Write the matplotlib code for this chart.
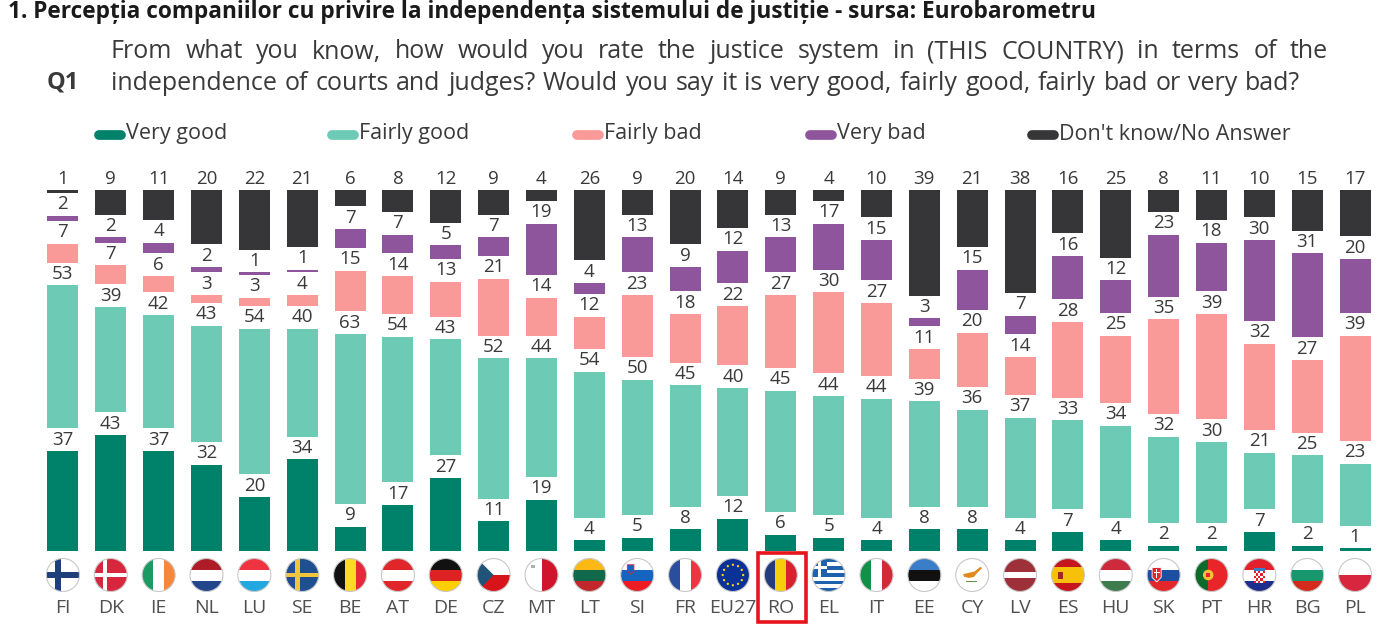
import matplotlib
matplotlib.use('Agg')
import matplotlib.pyplot as plt
from matplotlib.patches import Rectangle, Circle, Polygon
from matplotlib.lines import Line2D
import numpy as np

countries = ['FI', 'DK', 'IE', 'NL', 'LU', 'SE', 'BE', 'AT', 'DE', 'CZ', 'MT', 'LT', 'SI', 'FR',
             'EU27', 'RO', 'EL', 'IT', 'EE', 'CY', 'LV', 'ES', 'HU', 'SK', 'PT', 'HR', 'BG', 'PL']
very_good = [37, 43, 37, 32, 20, 34, 9, 17, 27, 11, 19, 4, 5, 8, 12, 6, 5, 4, 8, 8, 4, 7, 4, 2, 2, 7, 2, 1]
fairly_good = [53, 39, 42, 43, 54, 40, 63, 54, 43, 52, 44, 54, 50, 45, 40, 45, 44, 44, 39, 36, 37, 33, 34, 32, 30, 21, 25, 23]
fairly_bad = [7, 7, 6, 3, 3, 4, 15, 14, 13, 21, 14, 12, 23, 18, 22, 27, 30, 27, 11, 20, 14, 28, 25, 35, 39, 32, 27, 39]
very_bad = [2, 2, 4, 2, 1, 1, 7, 7, 5, 7, 19, 4, 13, 9, 12, 13, 17, 15, 3, 15, 7, 16, 12, 23, 18, 30, 31, 20]
dont_know = [1, 9, 11, 20, 22, 21, 6, 8, 12, 9, 4, 26, 9, 20, 14, 9, 4, 10, 39, 21, 38, 16, 25, 8, 11, 10, 15, 17]

series_names = ['Very good', 'Fairly good', 'Fairly bad', 'Very bad', "Don't know/No Answer"]
colors = ['#00816A', '#6DCAB5', '#F99A98', '#8E559C', '#363638']
highlight = 'RO'

title = '1. Percepția companiilor cu privire la independența sistemului de justiție - sursa: Eurobarometru'
question = ['From what you know, how would you rate the justice system in (THIS COUNTRY) in terms of the',
            'independence of courts and judges? Would you say it is very good, fairly good, fairly bad or very bad?']

NARROW = ['Liberation Sans Narrow', 'Open Sans', 'DejaVu Sans']
W, H = 1400, 635
fig = plt.figure(figsize=(W / 100, H / 100), dpi=100)


def fx(px):
    return px / W


def fy(py):
    return 1 - py / H


# ---- bars ----
gap = 8.4
ax = fig.add_axes([fx(39), fy(551), fx(1340), 378 / H])
ax.set_xlim(-0.5, 27.5)
ax.set_ylim(0, 140)
ax.axis('off')

x = np.arange(len(countries))
series = [very_good, fairly_good, fairly_bad, very_bad, dont_know]
base = np.zeros(len(countries))
for k, (vals, col) in enumerate(zip(series, colors)):
    vals = np.array(vals, dtype=float)
    ax.bar(x, vals, 0.65, bottom=base, color=col, edgecolor='none')
    for xi, b, v in zip(x, base, vals):
        ax.text(xi, b + v + gap / 2, f'{int(v)}', ha='center', va='center',
                fontsize=13.5, color='#3a3a3a', family=NARROW)
    base = base + vals + gap

# ---- flags ----
ppu = 1340 / 28.0
fax = fig.add_axes([fx(39), fy(595), fx(1340), 40 / H])
fax.set_xlim(-0.5, 27.5)
fax.set_ylim(-20 / ppu, 20 / ppu)
fax.axis('off')

RED = '#D7263D'
WHITE = '#FFFFFF'


def draw_flag(a, code, cx, cy, r):
    clip = Circle((cx, cy), r, transform=a.transData)
    parts = []

    def rect(x0, y0, x1, y1, c):
        parts.append(Rectangle((cx + x0 * r, cy + y0 * r), (x1 - x0) * r, (y1 - y0) * r,
                               facecolor=c, edgecolor='none'))

    def hst(cols, ratios=None):
        ratios = ratios or [1] * len(cols)
        tot = float(sum(ratios))
        yy = 1.0
        for c, f in zip(cols, ratios):
            h = 2 * f / tot
            rect(-1, yy - h, 1, yy, c)
            yy -= h

    def vst(cols, ratios=None):
        ratios = ratios or [1] * len(cols)
        tot = float(sum(ratios))
        xx = -1.0
        for c, f in zip(cols, ratios):
            w = 2 * f / tot
            rect(xx, -1, xx + w, 1, c)
            xx += w

    def poly(pts, c, ec='none'):
        parts.append(Polygon([(cx + p * r, cy + q * r) for p, q in pts], closed=True,
                             facecolor=c, edgecolor=ec, linewidth=0.6))

    def dot(px, py, rad, c):
        parts.append(Circle((cx + px * r, cy + py * r), rad * r, facecolor=c, edgecolor='none'))

    if code == 'FI':
        rect(-1, -1, 1, 1, WHITE)
        rect(-0.48, -1, -0.12, 1, '#1E3F7A')
        rect(-1, -0.17, 1, 0.17, '#1E3F7A')
    elif code == 'DK':
        rect(-1, -1, 1, 1, RED)
        rect(-0.45, -1, -0.22, 1, WHITE)
        rect(-1, -0.12, 1, 0.12, WHITE)
    elif code == 'SE':
        rect(-1, -1, 1, 1, '#1D4F91')
        rect(-0.45, -1, -0.15, 1, '#F2C53D')
        rect(-1, -0.15, 1, 0.15, '#F2C53D')
    elif code == 'IE':
        vst(['#1B9A62', WHITE, '#F6883E'])
    elif code == 'NL':
        hst(['#AE1C28', WHITE, '#21468B'])
    elif code == 'LU':
        hst(['#EF3340', WHITE, '#21A8E0'])
    elif code == 'BE':
        vst(['#111111', '#FDDA24', '#E5293A'])
    elif code == 'AT':
        hst(['#E0262A', WHITE, '#E0262A'])
    elif code == 'DE':
        hst(['#111111', '#DD2222', '#FFCE00'])
    elif code == 'CZ':
        hst([WHITE, '#D7141A'])
        poly([(-1, 1), (0.0, 0), (-1, -1)], '#1F5478')
    elif code == 'MT':
        vst([WHITE, '#CF142B'])
        rect(-0.62, 0.42, -0.42, 0.62, '#B0B0B0')
    elif code == 'LT':
        hst(['#FDB913', '#10694A', '#C1272D'])
    elif code == 'SI':
        hst([WHITE, '#1565C0', '#ED1C24'])
        poly([(-0.6, 0.62), (-0.2, 0.62), (-0.2, 0.25), (-0.4, 0.05), (-0.6, 0.25)], '#1565C0', '#ED1C24')
    elif code == 'FR':
        vst(['#2B4D9E', WHITE, '#EF3340'])
    elif code == 'EU27':
        rect(-1, -1, 1, 1, '#0A3196')
        for ang in np.linspace(0, 2 * np.pi, 12, endpoint=False):
            dot(0.62 * np.cos(ang), 0.62 * np.sin(ang), 0.07, '#FFD700')
    elif code == 'RO':
        vst(['#233C7E', '#F7CE0C', '#D62230'])
    elif code == 'EL':
        hst(['#1E61AD', WHITE] * 4 + ['#1E61AD'])
        rect(-1, -0.111, -0.1, 1, '#1E61AD')
        rect(-0.64, -0.111, -0.46, 1, WHITE)
        rect(-1, 0.35, -0.1, 0.55, WHITE)
    elif code == 'IT':
        vst(['#0E9247', WHITE, '#D42A36'])
    elif code == 'EE':
        hst(['#3A7DC9', '#111111', WHITE])
    elif code == 'CY':
        rect(-1, -1, 1, 1, WHITE)
        poly([(-0.55, 0.05), (-0.25, 0.12), (0.15, 0.22), (0.5, 0.5), (0.6, 0.42),
              (0.3, 0.12), (0.1, -0.12), (-0.2, -0.18), (-0.5, -0.1)], '#E08A1E')
        rect(-0.35, -0.42, 0.3, -0.36, '#6A8A4A')
    elif code == 'LV':
        hst(['#9E3039', WHITE, '#9E3039'], [2, 1, 2])
    elif code == 'ES':
        hst(['#C4161C', '#F7C10A', '#C4161C'], [1, 2, 1])
        rect(-0.6, -0.25, -0.3, 0.2, '#A8261E')
    elif code == 'HU':
        hst(['#CD2A3E', WHITE, '#3E7B4E'])
    elif code == 'SK':
        hst([WHITE, '#1C4FA2', '#E3262B'])
        poly([(-0.7, 0.45), (-0.15, 0.45), (-0.15, -0.15), (-0.42, -0.42), (-0.7, -0.15)], '#E3262B', WHITE)
        rect(-0.47, -0.2, -0.38, 0.35, WHITE)
        rect(-0.6, 0.12, -0.25, 0.2, WHITE)
    elif code == 'PT':
        vst(['#0A6B2A', '#E8262A'], [2, 3])
        dot(-0.2, 0, 0.32, '#F2C230')
        rect(-0.33, -0.15, -0.07, 0.15, '#E8262A')
    elif code == 'HR':
        hst(['#E4202C', WHITE, '#1E2E8C'])
        for i in range(5):
            for j in range(5):
                c = '#E4202C' if (i + j) % 2 == 0 else WHITE
                rect(-0.32 + j * 0.128, 0.25 - (i + 1) * 0.15, -0.32 + (j + 1) * 0.128, 0.25 - i * 0.15, c)
        rect(-0.34, 0.27, 0.34, 0.45, '#3A7DC9')
    elif code == 'BG':
        hst([WHITE, '#16976E', '#D42A1E'])
    elif code == 'PL':
        hst([WHITE, '#D7263D'])

    for p in parts:
        a.add_patch(p)
        p.set_clip_path(clip)
    a.add_patch(Circle((cx, cy), r, facecolor='none', edgecolor='#C8C8C8', linewidth=0.8))


for xi, code in zip(x, countries):
    draw_flag(fax, code, xi, 0, 16.5 / ppu)
    fax.text(xi, -33 / ppu, code, ha='center', va='center', fontsize=14,
             color='#505050', family=NARROW, clip_on=False)
    if code == highlight:
        fax.add_patch(Rectangle((xi - 0.48, -47 / ppu), 1.0, 69 / ppu, facecolor='none',
                                edgecolor='#E8141C', linewidth=2.6, clip_on=False))

# ---- header ----
fig.text(fx(8), fy(12), title, fontsize=16.3, fontweight='bold', color='#1a1a1a',
         family=NARROW, ha='left', va='center')
fig.text(fx(47), fy(82), 'Q1', fontsize=17, fontweight='bold', color='#3a3a3a',
         family=NARROW, ha='left', va='center')

renderer = fig.canvas.get_renderer()


def justify(line, x0, x1, ypx):
    words = line.split(' ')
    ts = [fig.text(0, fy(ypx), w, fontsize=18, color='#3a3a3a', family=NARROW,
                   ha='left', va='center') for w in words]
    widths = [t.get_window_extent(renderer).width for t in ts]
    space = (x1 - x0 - sum(widths)) / (len(words) - 1)
    xx = x0
    for t, w in zip(ts, widths):
        t.set_x(fx(xx))
        xx += w + space


justify(question[0], 111, 1328, 52)
justify(question[1], 111, 1300, 83)

# ---- legend ----
leg_x = [99, 332, 577, 810, 1032]
for lx, name, col in zip(leg_x, series_names, colors):
    fig.add_artist(Line2D([fx(lx), fx(lx + 22)], [fy(135), fy(135)], color=col,
                          linewidth=7, solid_capstyle='round'))
    fig.text(fx(lx + 27), fy(134), name, fontsize=15.5, color='#3a3a3a', family=NARROW,
             ha='left', va='center')

fig.savefig('out.png', dpi=100)
